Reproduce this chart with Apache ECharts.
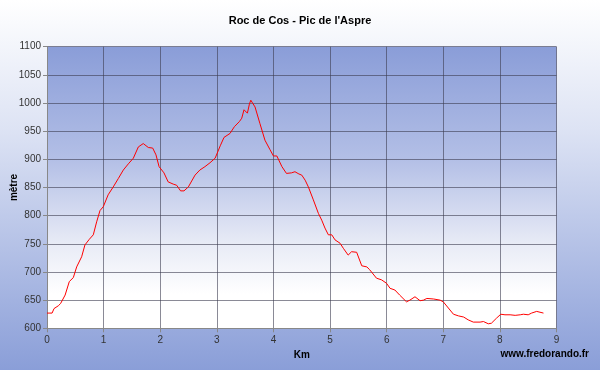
<!DOCTYPE html>
<html>
<head>
<meta charset="utf-8">
<script src="https://cdn.jsdelivr.net/npm/echarts@6/dist/echarts.min.js"></script>
<style>
html, body { margin: 0; padding: 0; }
#chart { width: 600px; height: 370px; }
</style>
</head>
<body>
<div id="chart"></div>
<script>
'use strict';

var km = [0, 0.09, 0.124, 0.2, 0.24, 0.32, 0.394, 0.465, 0.524, 0.612, 0.67, 0.747, 0.818, 0.877, 0.936, 0.995,
    1.08, 1.17, 1.26, 1.348, 1.437, 1.525, 1.613, 1.70, 1.79, 1.867, 1.925, 1.98, 2.066, 2.14, 2.23, 2.29,
    2.36, 2.42, 2.497, 2.615, 2.70, 2.79, 2.88, 2.97, 3.06, 3.127, 3.233, 3.31, 3.398, 3.44, 3.48, 3.5,
    3.54, 3.575, 3.6, 3.675, 3.76, 3.85, 3.94, 4.0, 4.06, 4.15, 4.23, 4.32, 4.38, 4.45, 4.5, 4.56,
    4.617, 4.705, 4.794, 4.853, 4.91, 4.97, 5.03, 5.088, 5.177, 5.235, 5.32, 5.38, 5.47, 5.56, 5.65, 5.7,
    5.82, 5.91, 5.997, 6.06, 6.145, 6.23, 6.35, 6.41, 6.50, 6.59, 6.65, 6.71, 6.83, 6.944, 7.0, 7.09,
    7.18, 7.27, 7.36, 7.44, 7.53, 7.65, 7.71, 7.795, 7.85, 7.94, 8.016, 8.09, 8.18, 8.21, 8.27, 8.36,
    8.415, 8.5, 8.56, 8.65, 8.77];
var elev = [627, 627, 635, 640, 644, 659, 683, 690, 709, 727, 748, 758, 766, 789, 809, 816,
    837, 851, 866, 881, 892, 902, 922, 928, 921, 920, 908, 887, 876, 860, 856, 854,
    844, 844, 851, 872, 881, 887, 894, 902, 924, 939, 946, 958, 967, 973, 988, 990,
    982, 998, 1005, 993, 964, 934, 917, 906, 906, 887, 875, 876, 878, 874, 872, 863,
    851, 828, 804, 792, 778, 766, 766, 757, 751, 742, 730, 736, 735, 711, 709, 704,
    689, 686, 680, 671, 668, 659, 647, 650, 656, 649, 650, 653, 652, 650, 647, 636,
    625, 622, 620, 615, 611, 611, 612, 608, 609, 618, 625, 624, 624, 625, 623, 624,
    625, 624, 627, 630, 627];

var chartTitle = "Roc de Cos - Pic de l'Aspre";
var siteName = 'www.fredorando.fr';

var points = km.map((k, i) => [k, elev[i]]);

var chart = echarts.init(document.getElementById('chart'));
var option = {
    animation: false,
    backgroundColor: {
        type: 'linear', x: 0, y: 0, x2: 0, y2: 1,
        colorStops: [{offset: 0, color: '#ffffff'}, {offset: 0.35, color: '#dde3f4'}, {offset: 1, color: '#8a9ed8'}]
    },
    title: [
        {text: chartTitle, left: 'center', top: 10,
            textStyle: {fontFamily: 'Liberation Sans', fontSize: 11, fontWeight: 'bold', color: '#000'}},
        {text: siteName, right: 6, top: 344,
            textStyle: {fontFamily: 'Liberation Sans', fontSize: 10, fontWeight: 'bold', color: '#000'}}
    ],
    grid: {
        left: 47, right: 43.5, top: 46.7, bottom: 41.7, show: true, borderWidth: 0,
        containLabel: false, outerBoundsMode: 'none',
        backgroundColor: {
            type: 'linear', x: 0, y: 0, x2: 0, y2: 1,
            colorStops: [{offset: 0, color: '#8a9dd8'}, {offset: 0.4, color: '#b3bfe6'},
                {offset: 0.7, color: '#e8ebf6'}, {offset: 0.88, color: '#ffffff'}, {offset: 1, color: '#ffffff'}]
        }
    },
    xAxis: {
        type: 'value', min: 0, max: 9, interval: 1,
        name: 'Km', nameLocation: 'middle', nameGap: 22, nameMoveOverlap: false,
        nameTextStyle: {fontFamily: 'Liberation Sans', fontSize: 10, fontWeight: 'bold', color: '#000'},
        axisLine: {show: true, onZero: false, lineStyle: {color: '#888', width: 1}},
        axisTick: {show: true, length: 4, lineStyle: {color: '#888'}},
        axisLabel: {fontFamily: 'Liberation Sans', fontSize: 10, color: '#333', margin: 7},
        splitLine: {show: true, lineStyle: {color: 'rgba(60,60,80,0.6)', width: 1}}
    },
    yAxis: {
        type: 'value', min: 600, max: 1100, interval: 50,
        name: 'mètre', nameLocation: 'middle', nameGap: 28, nameRotate: 90, nameMoveOverlap: false,
        nameTextStyle: {fontFamily: 'Liberation Sans', fontSize: 10, fontWeight: 'bold', color: '#000'},
        axisLine: {show: true, lineStyle: {color: '#888', width: 1}},
        axisTick: {show: true, length: 4, lineStyle: {color: '#888'}},
        axisLabel: {fontFamily: 'Liberation Sans', fontSize: 10, color: '#333', margin: 6,
            formatter: v => String(v)},
        splitLine: {show: true, lineStyle: {color: 'rgba(60,60,80,0.6)', width: 1}}
    },
    series: [{
        type: 'line', data: points, showSymbol: false, smooth: false,
        lineStyle: {color: '#ff0000', width: 1}
    }]
};
chart.setOption(option);
</script>
</body>
</html>
